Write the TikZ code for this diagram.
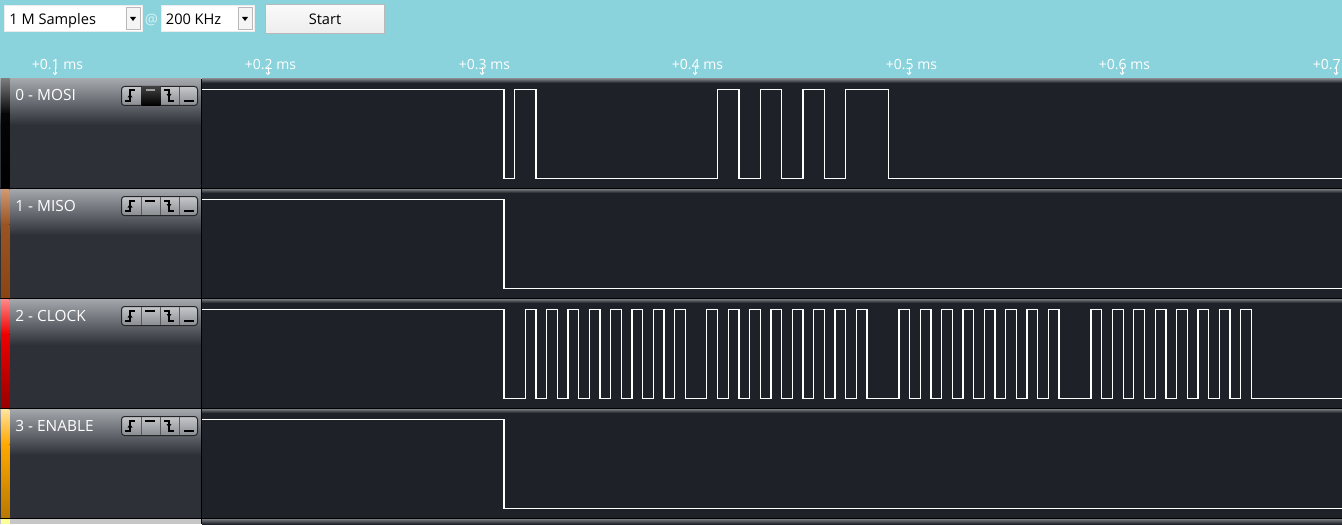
\documentclass[tikz,border=0pt]{standalone}
\usepackage{fontspec}
\setmainfont{Open Sans}
\definecolor{sky}{HTML}{8AD3DC}
\definecolor{wbg}{HTML}{1E2127}
\definecolor{pdark}{HTML}{2D3037}
\definecolor{plight}{HTML}{A4A7AC}
\definecolor{edgeg}{HTML}{74777C}
\definecolor{btnA}{HTML}{C6C8CB}
\definecolor{btnB}{HTML}{888B90}
\definecolor{atcol}{HTML}{D8F2F5}
\definecolor{paleyel}{HTML}{FFFF99}
\definecolor{s0a}{HTML}{7A7A7A}\definecolor{s0b}{HTML}{050505}\definecolor{s0c}{HTML}{000000}
\definecolor{s1a}{HTML}{D09A74}\definecolor{s1b}{HTML}{9A5424}\definecolor{s1c}{HTML}{8B4513}
\definecolor{s2a}{HTML}{FF8A8A}\definecolor{s2b}{HTML}{EE0000}\definecolor{s2c}{HTML}{990000}
\definecolor{s3a}{HTML}{FFE4A0}\definecolor{s3b}{HTML}{FFA800}\definecolor{s3c}{HTML}{B87800}
\tikzset{
  sig/.style={draw=white, line width=0.65pt, line join=miter},
  tlabel/.style={text=white, font=\fontsize{7}{8}\selectfont, anchor=base, inner sep=0pt},
  chlabel/.style={text=white, font=\fontsize{7.7}{9}\selectfont, anchor=base west, inner sep=0pt},
  uitext/.style={font=\fontsize{7.3}{8}\selectfont, inner sep=0pt, anchor=base},
  icon/.style={draw=black, line width=1pt},
}
\begin{document}
\begin{tikzpicture}[x=0.5pt,y=-0.5pt]
\useasboundingbox (0,0) rectangle (1342,524);
\clip (0,0) rectangle (1342,524);
% header
\fill[sky] (0,0) rectangle (1342,79);
% combo 1
\filldraw[fill=white, draw=white!85!gray, line width=0.5pt] (4.5,5.5) rectangle (142.5,31.5);
\filldraw[fill=gray!8, draw=gray!55, line width=0.5pt] (126,7.5) rectangle (140.5,29.5);
\fill[black] (130,17) -- (136,17) -- (133,21) -- cycle;
\node[uitext, anchor=base west] (samples) at (9,25) {1 M Samples};
\node[uitext, text=atcol] (atsign) at (151.5,25) {@};
% combo 2
\filldraw[fill=white, draw=white!85!gray, line width=0.5pt] (161.5,5.5) rectangle (254.5,31.5);
\filldraw[fill=gray!8, draw=gray!55, line width=0.5pt] (238,7.5) rectangle (252.5,29.5);
\fill[black] (242,17) -- (248,17) -- (245,21) -- cycle;
\node[uitext, anchor=base west] (rate) at (165.5,25) {200 KHz};
% start button
\filldraw[top color=gray!4, bottom color=gray!14, draw=gray!55, line width=0.5pt] (265.5,4.5) rectangle (384.5,34);
\node[uitext] (start) at (325,25) {Start};
% time ticks
\foreach \t/\lab [count=\k] in {55/+0.1 ms,268/+0.2 ms,482/+0.3 ms,695/+0.4 ms,909/+0.5 ms,1122/+0.6 ms,1336/+0.7 ms}{
  \node[tlabel] (tick\k) at ({\t+2.5},69) {\lab};
  \draw[white, line width=0.5pt] (\t,67.5) -- (\t,74.5);
  \draw[white, line width=0.5pt] ({\t-2},72.5) -- (\t,74.5) -- ({\t+2},72.5);
}
% channel rows
\foreach \i/\lab in {0/0 - MOSI,1/1 - MISO,2/2 - CLOCK,3/3 - ENABLE}{
  \pgfmathsetmacro\T{79+110*\i}
  \fill[top color=plight, bottom color=pdark] (0,\T) rectangle (201,{\T+46});
  \fill[pdark] (0,{\T+46}) rectangle (201,{\T+109});
  \fill[top color=s\i a, bottom color=s\i b] (1,\T) rectangle (9.5,{\T+35});
  \fill[top color=s\i b, bottom color=s\i c] (1,{\T+35}) rectangle (9.5,{\T+109});
  \fill[wbg] (202,\T) rectangle (1342,{\T+109});
  \fill[top color=edgeg, bottom color=wbg] (202,\T) rectangle (1342,{\T+4});
  \fill[black] (0,{\T+108.5}) rectangle (1342,{\T+110});
  \fill[black] (201,\T) rectangle (202.3,{\T+109});
  \node[chlabel] (lab\i) at (15,{\T+22}) {\lab};
  % trigger buttons
  \draw[rounded corners=1.5pt, top color=btnA, bottom color=btnB, draw=black!85, line width=0.5pt]
    (121.5,{\T+7.5}) rectangle (197.5,{\T+26.5});
  \foreach \d in {141.5,160.5,179.5}{
    \draw[black!65, line width=0.4pt] (\d,{\T+8}) -- (\d,{\T+26});
  }
  \draw[icon] (125,{\T+22}) -- (130,{\T+22}) -- (130,{\T+11.5}) -- (135,{\T+11.5});
  \fill[black] (127.5,{\T+18.5}) -- (130,{\T+15}) -- (132.5,{\T+18.5}) -- cycle;
  \draw[icon] (164,{\T+11.5}) -- (169,{\T+11.5}) -- (169,{\T+22}) -- (174,{\T+22});
  \fill[black] (166.5,{\T+15}) -- (169,{\T+18.5}) -- (171.5,{\T+15}) -- cycle;
  \draw[icon] (145,{\T+11.5}) -- (155,{\T+11.5});
  \draw[icon] (184,{\T+22}) -- (194,{\T+22});
}
% selected cell (MOSI)
\fill[top color=black!75, bottom color=black] (141.7,86.7) rectangle (160.3,105.3);
\draw[gray!75, line width=1.2pt] (145.5,90) -- (155,90);
% partial row at bottom
\fill[gray!45] (0,519) rectangle (201,524);
\fill[paleyel] (1,519) rectangle (9.5,524);
\fill[top color=edgeg, bottom color=wbg] (202,519) rectangle (1342,524);
\fill[black] (201,519) rectangle (202.3,524);
% waveforms
\def\xo{504}\def\u{10.675}
% MOSI
\draw[sig] (202,89.5) -- (\xo,89.5) -- (\xo,178.5)
  \foreach \a/\b in {1/3,20/22,24/26,28/30,32/36}{
    -- ({\xo+\a*\u},178.5) -- ({\xo+\a*\u},89.5) -- ({\xo+\b*\u},89.5) -- ({\xo+\b*\u},178.5)
  } -- (1342,178.5);
% MISO
\draw[sig] (202,199.5) -- (\xo,199.5) -- (\xo,288.5) -- (1342,288.5);
% CLOCK
\draw[sig] (202,309.5) -- (\xo,309.5) -- (\xo,398.5)
  \foreach \n in {2,4,6,8,10,12,14,16,19,21,23,25,27,29,31,33,37,39,41,43,45,47,49,51,55,57,59,61,63,65,67,69}{
    -- ({\xo+\n*\u},398.5) -- ({\xo+\n*\u},309.5) -- ({\xo+(\n+1)*\u},309.5) -- ({\xo+(\n+1)*\u},398.5)
  } -- (1342,398.5);
% ENABLE
\draw[sig] (202,419.5) -- (\xo,419.5) -- (\xo,508.5) -- (1342,508.5);
\end{tikzpicture}
\end{document}
